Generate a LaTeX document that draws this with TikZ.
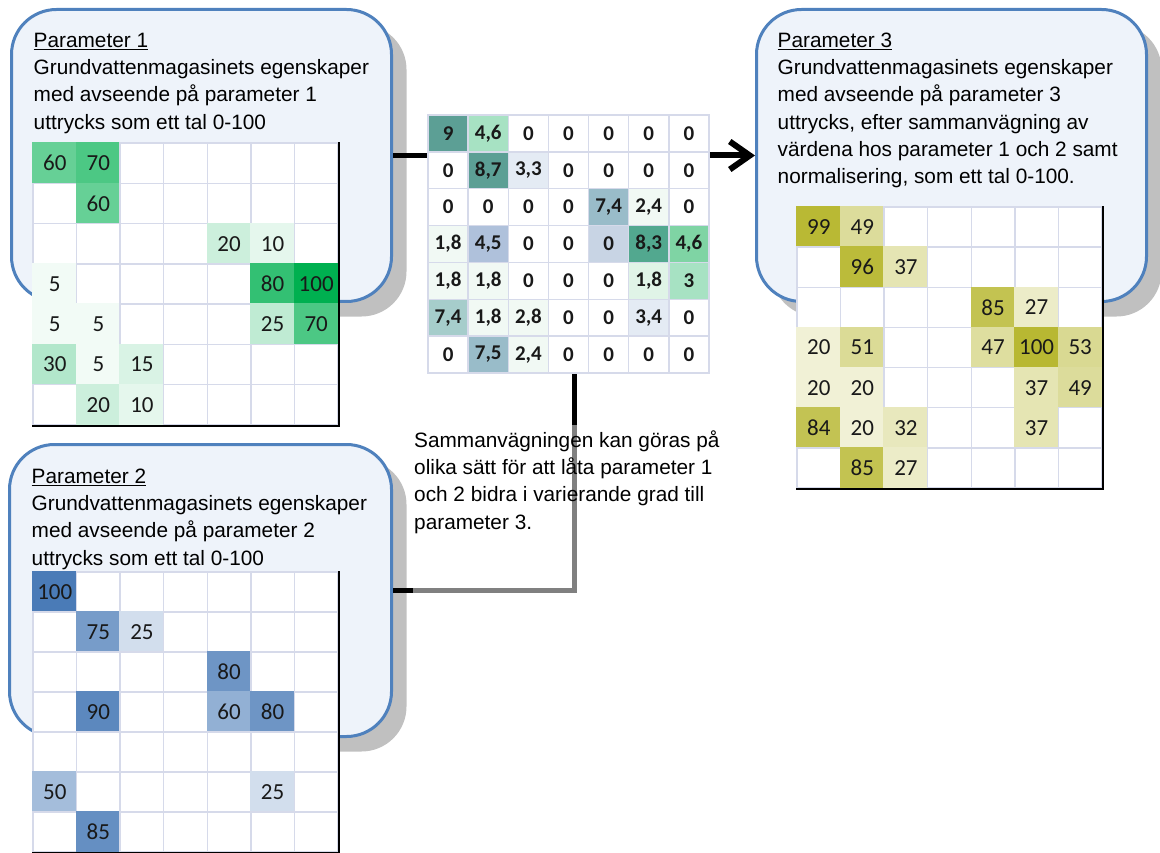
\documentclass[tikz,border=0pt]{standalone}
\usepackage{fontspec}
\setmainfont{Liberation Sans}
\newfontfamily\calibri{Carlito}
\usepackage{tikz}
\usetikzlibrary{arrows.meta,positioning,fit,shadows}

\definecolor{boxblue}{HTML}{4F81BD}
\definecolor{boxfill}{HTML}{EEF3FA}
\definecolor{shadowgrey}{HTML}{C0C0C0}
\definecolor{gridline}{HTML}{D6DAEA}
\definecolor{parone}{HTML}{00B050}
\definecolor{partwo}{HTML}{4A7BB7}
\definecolor{parthree}{HTML}{B8B832}
% colours of the weighted grid
\definecolor{tealdk}{HTML}{5C9F95}
\definecolor{tealmd}{HTML}{52A88F}
\definecolor{mintlt}{HTML}{A7E2C3}
\definecolor{mintmd}{HTML}{7FD4A4}
\definecolor{steel}{HTML}{99BCC9}
\definecolor{steelg}{HTML}{A6CDCB}
\definecolor{bluelt}{HTML}{AFC1DB}
\definecolor{bluegrey}{HTML}{C8D4E4}
\definecolor{bluepale}{HTML}{E4EBF4}
\definecolor{greenpale}{HTML}{F1F9F4}
\definecolor{greenlt}{HTML}{E0F4E7}

\begin{document}
\begin{tikzpicture}[
    x=1pt, y=-1pt,
    box/.style={rectangle, draw=boxblue, line width=3pt, fill=boxfill, rounded corners=45pt, inner sep=0pt,
        drop shadow={shadow xshift=15pt, shadow yshift=-15pt, fill=shadowgrey, opacity=1}},
    boxtext/.style={align=left, inner sep=0pt, font=\fontsize{20.8}{27.3}\selectfont},
    cell/.style={rectangle, inner sep=0pt, line width=1.5pt, minimum width=43.57pt, minimum height=40.2pt,
        text=black!90, font=\calibri\fontsize{23}{23}\selectfont},
    midcell/.style={rectangle, inner sep=0pt, line width=1.5pt, draw=gridline, minimum width=40.14pt,
        minimum height=36.86pt, text=black!90, font=\calibri\bfseries\fontsize{21}{21}\selectfont},
    gridedge/.style={black, line width=2pt},
    link/.style={black, line width=5pt}
]
\useasboundingbox (0,0) rectangle (1160,853);

% Boxes
\node[box, minimum width=380pt, minimum height=292pt] (box1) at (201.5,155.5) {};
\node[box, minimum width=382pt, minimum height=292pt] (box2) at (200.5,590.5) {};
\node[box, minimum width=390pt, minimum height=292pt] (box3) at (951.5,155.5) {};

% Box texts
\node[boxtext, below right=20pt and 23.5pt of box1.north west] (text1) {\strut\underline{Parameter 1}\\
    Grundvattenmagasinets egenskaper\\med avseende på parameter 1\\uttrycks som ett tal 0-100};
\node[boxtext, below right=21pt and 23.5pt of box2.north west] (text2) {\strut\underline{Parameter 2}\\
    Grundvattenmagasinets egenskaper\\med avseende på parameter 2\\uttrycks som ett tal 0-100};
\node[boxtext, below right=20pt and 22.5pt of box3.north west] (text3) {\strut\underline{Parameter 3}\\
    Grundvattenmagasinets egenskaper\\med avseende på parameter 3\\uttrycks, efter sammanvägning av\\
    värdena hos parameter 1 och 2 samt\\normalisering, som ett tal 0-100.};

% Grid parameter 1
\foreach \row [count=\r] in {{60,70,0,0,0,0,0},{0,60,0,0,0,0,0},{0,0,0,0,20,10,0},{5,0,0,0,0,80,100},
        {5,5,0,0,0,25,70},{30,5,15,0,0,0,0},{0,20,10,0,0,0,0}}
    \foreach \v [count=\c] in \row {
        \ifnum\v>0 \def\cellline{parone!\v!white}\else\def\cellline{gridline}\fi
        \node[cell, fill=parone!\v!white, draw=\cellline, minimum height=40.29pt]
            (pa-\r-\c) at ({33+43.57*(\c-0.5)},{143+40.29*(\r-0.5)}) {\ifnum\v>0 \v\fi};
    }
\draw[gridedge] (pa-1-7.north east) -- (pa-7-7.south east) -- (pa-7-1.south west);

% Grid parameter 2
\foreach \row [count=\r] in {{100,0,0,0,0,0,0},{0,75,25,0,0,0,0},{0,0,0,0,80,0,0},{0,90,0,0,60,80,0},
        {0,0,0,0,0,0,0},{50,0,0,0,0,25,0},{0,85,0,0,0,0,0}}
    \foreach \v [count=\c] in \row {
        \ifnum\v>0 \def\cellline{partwo!\v!white}\else\def\cellline{gridline}\fi
        \node[cell, fill=partwo!\v!white, draw=\cellline, minimum height=40pt]
            (pb-\r-\c) at ({33+43.57*(\c-0.5)},{572+40*(\r-0.5)}) {\ifnum\v>0 \v\fi};
    }
\draw[gridedge] (pb-1-7.north east) -- (pb-7-7.south east) -- (pb-7-1.south west);

% Grid parameter 3
\foreach \row [count=\r] in {{99,49,0,0,0,0,0},{0,96,37,0,0,0,0},{0,0,0,0,85,27,0},{20,51,0,0,47,100,53},
        {20,20,0,0,0,37,49},{84,20,32,0,0,37,0},{0,85,27,0,0,0,0}}
    \foreach \v [count=\c] in \row {
        \ifnum\v>0 \def\cellline{parthree!\v!white}\else\def\cellline{gridline}\fi
        \node[cell, fill=parthree!\v!white, draw=\cellline, minimum height=40.14pt]
            (pc-\r-\c) at ({797+43.57*(\c-0.5)},{207+40.14*(\r-0.5)}) {\ifnum\v>0 \v\fi};
    }
\draw[gridedge] (pc-1-7.north east) -- (pc-7-7.south east) -- (pc-7-1.south west);

% Weighted grid
\foreach \row [count=\r] in {
        {{9}/tealdk,{4,6}/mintlt,0/white,0/white,0/white,0/white,0/white},
        {0/white,{8,7}/tealdk,{3,3}/bluepale,0/white,0/white,0/white,0/white},
        {0/white,0/white,0/white,0/white,{7,4}/steel,{2,4}/greenpale,0/white},
        {{1,8}/greenpale,{4,5}/bluelt,0/white,0/white,0/bluegrey,{8,3}/tealmd,{4,6}/mintmd},
        {{1,8}/greenpale,{1,8}/greenpale,0/white,0/white,0/white,{1,8}/greenlt,3/mintlt},
        {{7,4}/steelg,{1,8}/greenpale,{2,8}/greenpale,0/white,0/white,{3,4}/bluepale,0/white},
        {0/white,{7,5}/steel,{2,4}/greenpale,0/white,0/white,0/white,0/white}}
    \foreach \v/\col [count=\c] in \row
        \node[midcell, fill=\col] (mi-\r-\c) at ({428+40.14*(\c-0.5)},{115+36.86*(\r-0.5)}) {\v};
\node[fit=(mi-1-1)(mi-7-7), inner sep=0pt] (mid) {};

% Connectors
\draw[link] (box1.east) -- (box1.east -| mid.west);
\draw[link, line width=6pt, -{Straight Barb[length=20pt, width=28pt]}] (mid.east |- box3.west) -- (box3.west);
\coordinate (joint) at ([xshift=6pt]mid.south);
\draw[link] (box2.east) -| (joint);

% Note on the weighting
\node[rectangle, fill=white, fill opacity=0.5, inner sep=0pt, minimum width=312pt, minimum height=175pt,
    anchor=north west] (notebg) at (413,425) {};
\node[boxtext, below right=3pt and 1pt of notebg.north west] (note) {\strut Sammanvägningen kan göras på\\
    olika sätt för att låta parameter 1\\och 2 bidra i varierande grad till\\parameter 3.};

\end{tikzpicture}
\end{document}
